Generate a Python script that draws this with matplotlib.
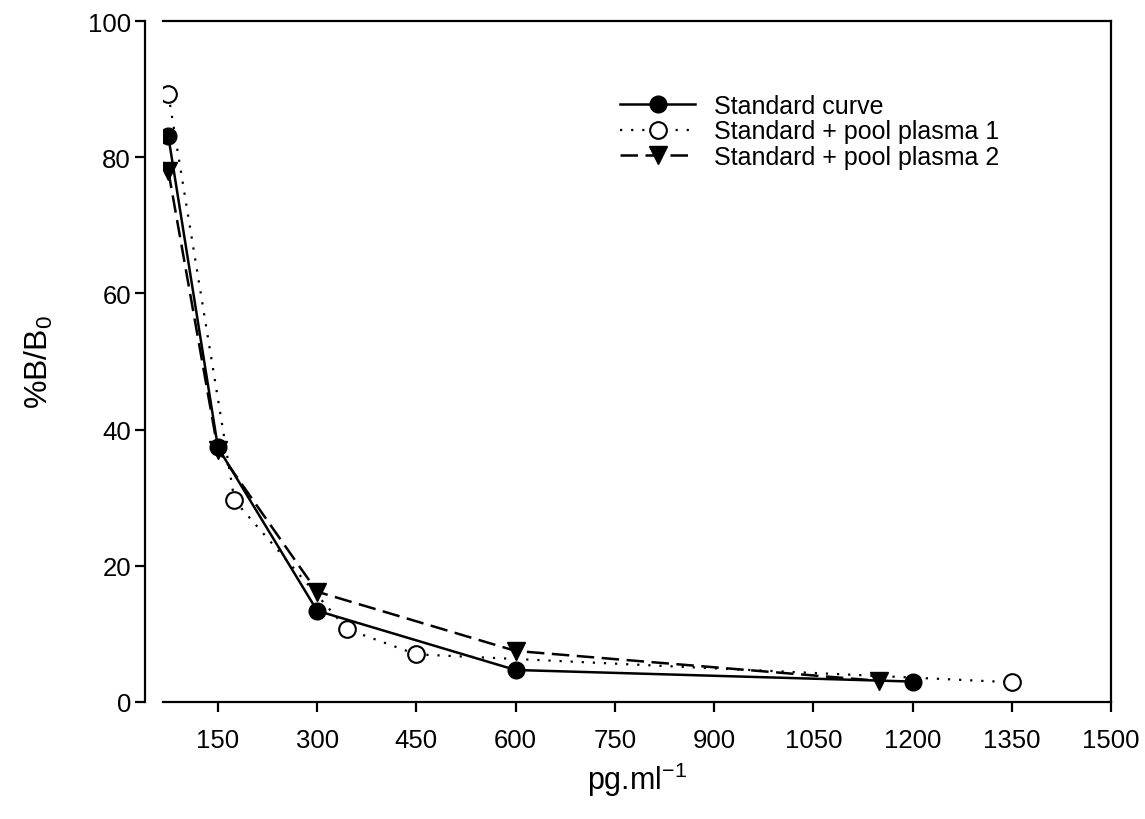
import matplotlib
matplotlib.use("Agg")
import matplotlib.pyplot as plt

plt.rcParams["font.family"] = ["Liberation Sans", "DejaVu Sans"]

# Datos
std_x = [75, 150, 300, 600, 1200]
std_y = [83.1, 37.4, 13.4, 4.7, 3.0]

pool1_x = [75, 175, 345, 450, 1350]
pool1_y = [89.3, 29.6, 10.7, 7.0, 2.9]

pool2_x = [75, 150, 300, 600, 1150]
pool2_y = [78.0, 37.0, 16.2, 7.5, 3.1]

x_ticks = [150, 300, 450, 600, 750, 900, 1050, 1200, 1350, 1500]
y_ticks = [0, 20, 40, 60, 80, 100]

W, H = 1145, 820
fig = plt.figure(figsize=(W / 100, H / 100), dpi=100)
ax = fig.add_axes([163 / W, 1 - 703 / H, (1111 - 163) / W, (703 - 22) / H])

ax.plot(std_x, std_y, color="black", lw=1.8, ls="-", marker="o", ms=12,
        mfc="black", mec="black", label="Standard curve")
ax.plot(pool1_x, pool1_y, color="black", lw=1.6, ls=(0, (1, 4)), marker="o", ms=12,
        mfc="white", mec="black", mew=1.5, label="Standard + pool plasma 1")
ax.plot(pool2_x, pool2_y, color="black", lw=1.8, ls=(0, (7, 3)), marker="v", ms=13,
        mfc="black", mec="black", label="Standard + pool plasma 2")

ax.set_xlim(67, 1500)
ax.set_ylim(0, 100)
ax.set_xticks(x_ticks)
ax.set_yticks(y_ticks)

for s in ax.spines.values():
    s.set_linewidth(1.6)
ax.spines["left"].set_position(("outward", 13))

ax.tick_params(axis="x", direction="out", length=7, width=1.6, pad=12,
               labelsize=18.5, top=False)
ax.tick_params(axis="y", direction="out", length=7, width=1.6, pad=3,
               labelsize=18.5, right=False)

ax.set_xlabel("pg.ml$^{\\mathregular{-1}}$", fontsize=22, labelpad=5)
ax.set_ylabel("%B/B$_{\\mathregular{0}}$", fontsize=23, labelpad=24)

ax.legend(loc="upper left", bbox_to_anchor=(620 / W, 1 - 95 / H),
          bbox_transform=fig.transFigure, frameon=False, fontsize=18,
          handlelength=3.0, handletextpad=0.75, labelspacing=0.05,
          borderpad=0, borderaxespad=0, numpoints=1)

fig.savefig("out.png", dpi=100)
